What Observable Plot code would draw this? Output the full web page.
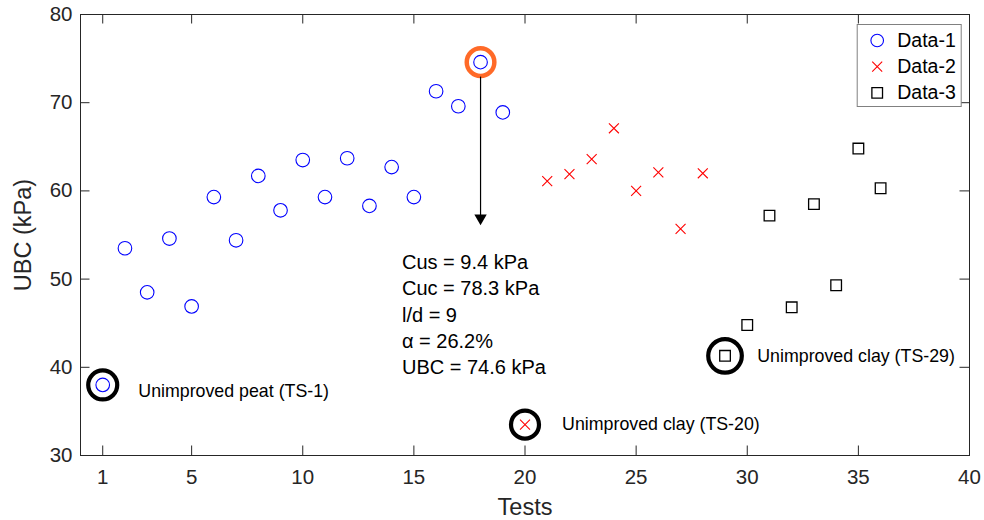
<!DOCTYPE html>
<html>
<head>
<meta charset="utf-8">
<script src="https://cdn.jsdelivr.net/npm/d3@7"></script>
<script src="https://cdn.jsdelivr.net/npm/@observablehq/plot@0.6"></script>
<style>
  html, body { margin: 0; padding: 0; background: #ffffff; }
  #chart { width: 984px; height: 520px; }
</style>
</head>
<body>
<div id="chart"></div>
<script>
// ---- Data ----
const seriesNames = ["Data-1", "Data-2", "Data-3"];

const tests1 = [1, 2, 3, 4, 5, 6, 7, 8, 9, 10, 11, 12, 13, 14, 15, 16, 17, 18, 19];
const ubc1   = [38.0, 53.5, 48.5, 54.6, 46.9, 59.3, 54.4, 61.7, 57.8, 63.5, 59.3, 63.7, 58.3, 62.7, 59.3, 71.3, 69.6, 74.6, 68.9];

const tests2 = [20, 21, 22, 23, 24, 25, 26, 27, 28];
const ubc2   = [33.5, 61.1, 61.9, 63.6, 67.1, 60.0, 62.1, 55.7, 62.0];

const tests3 = [29, 30, 31, 32, 33, 34, 35, 36];
const ubc3   = [41.3, 44.8, 57.2, 46.8, 58.5, 49.3, 64.8, 60.3];

const xTicks = [1, 5, 10, 15, 20, 25, 30, 35, 40];
const yTicks = [30, 40, 50, 60, 70, 80];

// highlighted (unimproved) tests and their labels
const highlightTests  = [1, 20, 29];
const highlightLabels = ["Unimproved peat (TS-1)", "Unimproved clay (TS-20)", "Unimproved clay (TS-29)"];
const highlightLabelX = [2.6, 21.67, 30.45];
const highlightLabelY = [37.3, 33.5, 41.2];

// annotated maximum test
const annotTest   = [18];
const annotTipUBC = [56.1];
const annotLines  = ["Cus = 9.4 kPa", "Cuc = 78.3 kPa", "l/d = 9", "\u03b1 = 26.2%", "UBC = 74.6 kPa"];

// ---- Build tables ----
const d1 = tests1.map((t, i) => ({test: t, ubc: ubc1[i]}));
const d2 = tests2.map((t, i) => ({test: t, ubc: ubc2[i]}));
const d3s = tests3.map((t, i) => ({test: t, ubc: ubc3[i]}));
const all = [...d1, ...d2, ...d3s];
const lookup = t => all.find(d => d.test === t);

const highlights = highlightTests.map((t, i) => ({
  test: t, ubc: lookup(t).ubc, label: highlightLabels[i], lx: highlightLabelX[i], ly: highlightLabelY[i]
}));
const annot = annotTest.map((t, i) => ({test: t, ubc: lookup(t).ubc, tip: annotTipUBC[i]}));

const ink = "#262626";
const frameH = 520 - 14 - 65;
const frameW = 984 - 80 - 15;
const tickLen = 9.5;

// series style (legend + marks)
const seriesStyle = [
  {symbol: "circle", stroke: "#0000ff", r: 6.8, strokeWidth: 1.1},
  {symbol: "times",  stroke: "#ff0000", r: 4.6, strokeWidth: 1.1},
  {symbol: "square", stroke: "#000000", r: 6.0, strokeWidth: 1.3}
];
const seriesData = [d1, d2, d3s];
const highlightR = [14.5, 14, 16.8];

const legendMarks = [];
seriesNames.forEach((name, i) => {
  const s = seriesStyle[i];
  legendMarks.push(Plot.dot([name], {
    frameAnchor: "top-right", dx: -92.3, dy: 26 + i * 26.2,
    symbol: s.symbol, stroke: s.stroke, r: s.symbol === "circle" ? 6.3 : s.r, strokeWidth: s.strokeWidth, fill: "none"
  }));
  legendMarks.push(Plot.text([name], {
    frameAnchor: "top-right", dx: -72.3, dy: 26 + i * 26.2, text: d => d,
    textAnchor: "start", lineAnchor: "middle", fontSize: 19.5, fill: "#000000"
  }));
});

const chart = Plot.plot({
  width: 984,
  height: 520,
  marginLeft: 80,
  marginRight: 15,
  marginTop: 14,
  marginBottom: 65,
  x: {domain: [0, 40]},
  y: {domain: [30, 80]},
  style: {fontFamily: "'Liberation Sans', Arial, Helvetica, sans-serif", background: "#ffffff", color: ink, overflow: "visible"},
  marks: [
    Plot.frame({stroke: ink, strokeWidth: 1}),
    // inward ticks, bottom / top / left / right
    Plot.ruleX(xTicks, {x: d => d, insetTop: frameH - tickLen, stroke: ink}),
    Plot.ruleX(xTicks, {x: d => d, insetBottom: frameH - tickLen, stroke: ink}),
    Plot.ruleY(yTicks, {y: d => d, insetRight: frameW - tickLen, stroke: ink}),
    Plot.ruleY(yTicks, {y: d => d, insetLeft: frameW - tickLen, stroke: ink}),
    Plot.axisX(xTicks, {tickSize: 0, tickPadding: 14, fontSize: 20.5, fill: ink, label: null}),
    Plot.axisY(yTicks, {tickSize: 0, tickPadding: 8, fontSize: 20.5, fill: ink, label: null}),
    Plot.text(["Tests"], {frameAnchor: "bottom", dy: 52, textAnchor: "middle", lineAnchor: "middle", fontSize: 23.5, fill: ink}),
    Plot.text(["UBC (kPa)"], {frameAnchor: "left", dx: -57, rotate: -90, textAnchor: "middle", lineAnchor: "middle", fontSize: 23.5, fill: ink}),

    // highlight circles
    ...highlights.map((h, i) => Plot.dot([h], {x: "test", y: "ubc", r: highlightR[i], stroke: "#000000", strokeWidth: 4.2, fill: "none"})),
    Plot.dot(annot, {x: "test", y: "ubc", r: 13.8, stroke: "#ff6a28", strokeWidth: 4.5, fill: "none"}),

    // arrow
    Plot.ruleX(annot, {x: "test", y1: "ubc", y2: "tip", insetTop: 15, insetBottom: 5, stroke: "#000000", strokeWidth: 1.2}),
    Plot.dot(annot, {x: "test", y: "tip", symbol: "triangle", rotate: 180, r: 4.6, dy: -7.2, fill: "#000000", stroke: "none"}),
    Plot.text(annot, {x: "test", y: "tip", text: () => annotLines.join("\n"), dx: -78.6, dy: 88,
      textAnchor: "start", lineAnchor: "middle", lineHeight: 26.2 / 20, fontSize: 20, fill: "#000000"}),

    // labels for unimproved tests
    Plot.text(highlights, {x: "lx", y: "ly", text: "label", textAnchor: "start", fontSize: 17.8, fill: "#000000"}),

    // data series
    ...seriesData.map((data, i) => Plot.dot(data, {
      x: "test", y: "ubc", symbol: seriesStyle[i].symbol, stroke: seriesStyle[i].stroke,
      r: seriesStyle[i].r, strokeWidth: seriesStyle[i].strokeWidth, fill: "none"
    })),

    // legend box and entries
    Plot.frame({fill: "#ffffff", stroke: "#808080", strokeWidth: 1, insetLeft: 776.7, insetRight: 8.3, insetTop: 10, insetBottom: 349}),
    ...legendMarks
  ]
});

document.getElementById("chart").appendChild(chart);
</script>
</body>
</html>
